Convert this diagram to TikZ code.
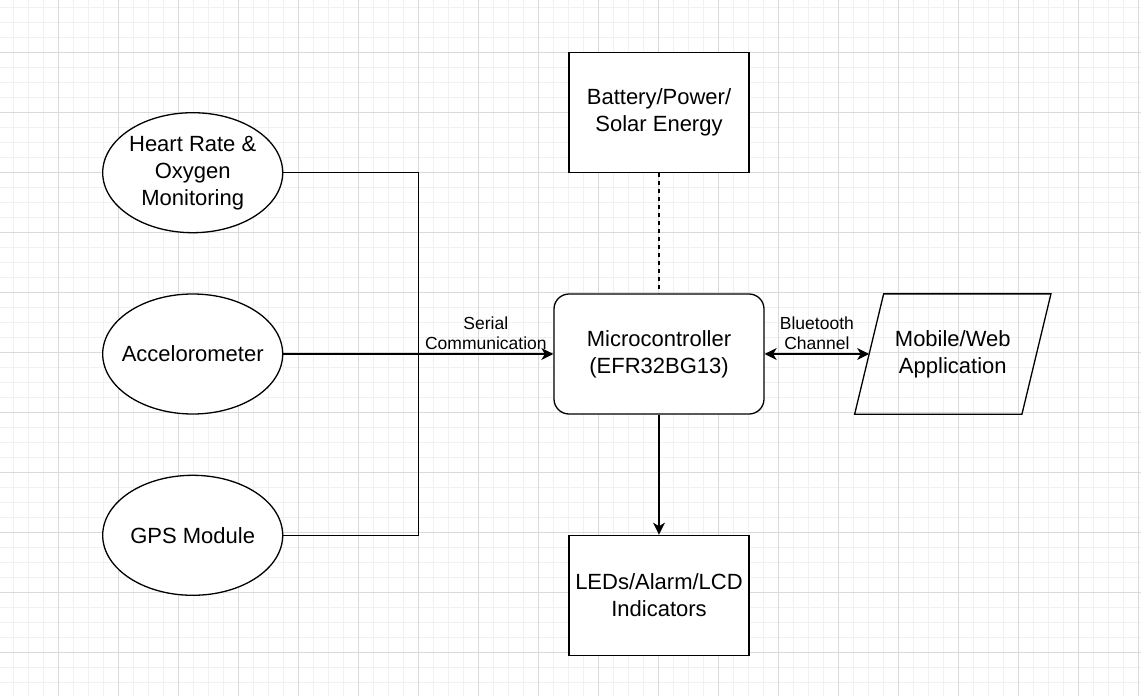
\documentclass[tikz,border=0pt]{standalone}
\usepackage{fontspec}
\setmainfont{Liberation Sans}
\usetikzlibrary{arrows.meta,positioning,shapes.geometric}
\definecolor{gridminor}{HTML}{F1F1F1}
\definecolor{gridmajor}{HTML}{DADADA}
\tikzset{
    >={Stealth[length=12pt,width=12pt,inset=3.5pt]},
    sensor/.style={
           ellipse,
           draw=black, line width=1.3pt,
           fill=white,
           minimum width=180pt,
           minimum height=120pt,
           inner xsep=-12pt,
           inner ysep=0pt,
           align=center,
           font=\fontsize{22}{27}\selectfont},
    unit/.style={
           rectangle,
           draw=black, line width=1.3pt,
           fill=white,
           minimum width=180pt,
           minimum height=120pt,
           inner sep=0pt,
           align=center,
           font=\fontsize{22}{27}\selectfont},
    ctrl/.style={
           unit,
           rounded corners=15pt,
           minimum width=210pt},
    appl/.style={
           unit,
           draw=none,
           fill=none,
           minimum width=166pt,
           minimum height=119pt},
    lbl/.style={
           align=center,
           inner sep=1pt,
           font=\fontsize{17.5}{20}\selectfont},
    pil/.style={
           ->,
           line width=1.5pt},
    wire/.style={
           line width=1.5pt}
}

\begin{document}
\begin{tikzpicture}[x=1pt, y=1pt]
        \useasboundingbox (0,0) rectangle (1141,-696);
        \fill[white] (0,0) rectangle (1141,-696);
        % grid
        \foreach \x in {13,28,...,1141} \draw[gridminor, line width=1pt] (\x,0) -- (\x,-696);
        \foreach \y in {7,22,...,696} \draw[gridminor, line width=1pt] (0,-\y) -- (1141,-\y);
        \foreach \x in {58,118,...,1141} \draw[gridmajor, line width=1pt] (\x,0) -- (\x,-696);
        \foreach \y in {52,112,...,696} \draw[gridmajor, line width=1pt] (0,-\y) -- (1141,-\y);

        \node[ctrl] (mcu) at (659,-354) {Microcontroller\\(EFR32BG13)};
        \node[unit, above=120pt of mcu] (bat) {Battery/Power/\\Solar Energy};
        \node[unit, below=120pt of mcu] (led) {LEDs/Alarm/LCD\\Indicators};
        \node[appl, right=104.5pt of mcu] (app) {Mobile/Web\\Application};
        \node[sensor, left=270pt of mcu] (acc) {Accelorometer};
        \node[sensor, above=60pt of acc] (hr) {Heart Rate \&\\Oxygen\\Monitoring};
        \node[sensor, below=60pt of acc] (gps) {GPS Module};
        \coordinate[right=135pt of acc.east] (jn);

        % parallelogram outline round the app node
        \draw[line width=1.3pt] ([xshift=-14.5pt]app.south west) -- ([xshift=14.5pt]app.north west)
            -- ([xshift=14.5pt]app.north east) -- ([xshift=-14.5pt]app.south east) -- cycle;

        \draw[wire] (hr) -| (jn);
        \draw[wire] (gps) -| (jn);
        \draw[pil] (acc) -- (mcu) node[lbl, above=3pt, pos=0.75] {Serial\\Communication};
        \draw[pil, <->] (mcu) -- (app) node[lbl, above=3pt, midway] {Bluetooth\\Channel};
        \draw[wire, dash pattern=on 4pt off 4pt] (bat) -- (mcu);
        \draw[pil] (mcu) -- (led);
    \end{tikzpicture}
\end{document}
